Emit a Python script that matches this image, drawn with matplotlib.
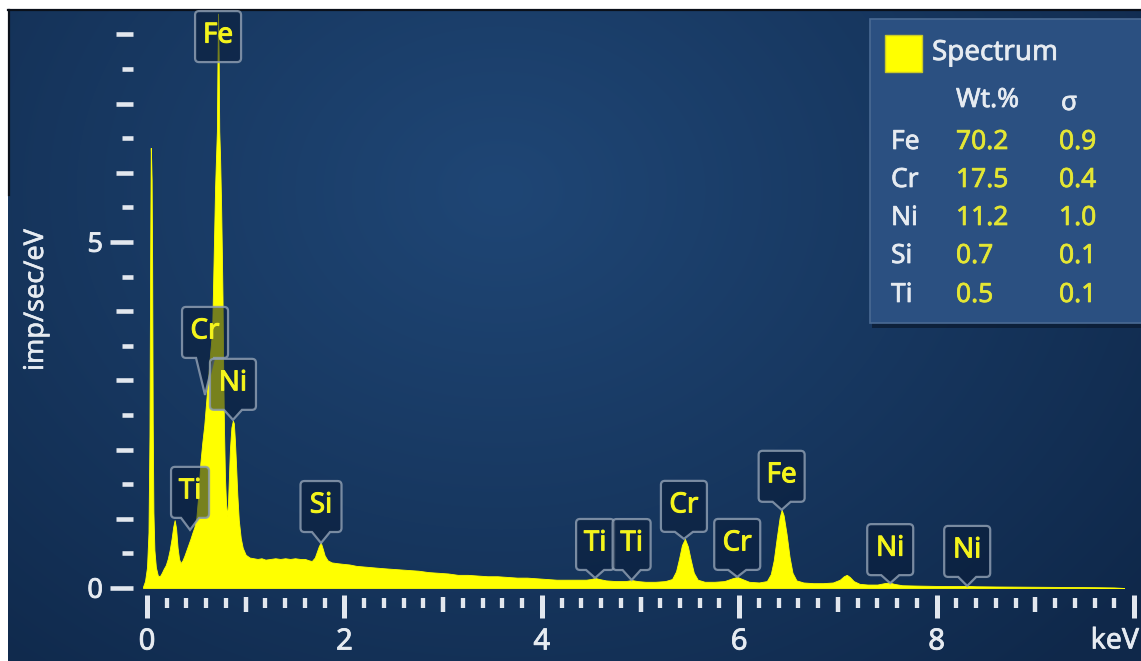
import numpy as np
import matplotlib
matplotlib.use("Agg")
import matplotlib.pyplot as plt
import matplotlib.patheffects as pe
from matplotlib.path import Path
from matplotlib.patches import PathPatch, Rectangle
from matplotlib.lines import Line2D
from matplotlib.transforms import IdentityTransform
from matplotlib.colors import to_rgb

plt.rcParams['font.family'] = ['Noto Sans', 'DejaVu Sans']

# ---------------- spectrum (energy in keV, intensity in imp/sec/eV) ----------------
energy_keV = [
    -0.04, -0.02, 0.00, 0.015, 0.025, 0.032, 0.038, 0.042, 0.047, 0.052,
    0.058, 0.065, 0.075, 0.09, 0.11, 0.13, 0.15, 0.17, 0.19, 0.21,
    0.23, 0.25, 0.265, 0.28, 0.295, 0.31, 0.325, 0.34, 0.36, 0.38,
    0.40, 0.42, 0.44, 0.46, 0.48, 0.50, 0.52, 0.54, 0.56, 0.58,
    0.60, 0.62, 0.64, 0.66, 0.67, 0.68, 0.69, 0.70, 0.708, 0.714,
    0.72, 0.726, 0.732, 0.74, 0.75, 0.758, 0.765, 0.772, 0.78, 0.79,
    0.80, 0.81, 0.82, 0.83, 0.84, 0.855, 0.87, 0.88, 0.89, 0.90,
    0.915, 0.93, 0.95, 0.97, 1.00, 1.04, 1.08, 1.12, 1.16, 1.20,
    1.25, 1.30, 1.35, 1.40, 1.45, 1.50, 1.55, 1.60, 1.64, 1.67,
    1.70, 1.72, 1.74, 1.76, 1.78, 1.80, 1.83, 1.87, 1.92, 1.98,
    2.05, 2.12, 2.20, 2.28, 2.36, 2.45, 2.55, 2.65, 2.75, 2.85,
    2.95, 3.05, 3.15, 3.25, 3.35, 3.45, 3.55, 3.65, 3.75, 3.85,
    3.95, 4.05, 4.15, 4.25, 4.35, 4.45, 4.50, 4.54, 4.58, 4.65,
    4.75, 4.85, 4.91, 4.97, 5.05, 5.15, 5.25, 5.32, 5.36, 5.39,
    5.42, 5.45, 5.48, 5.51, 5.54, 5.58, 5.65, 5.75, 5.85, 5.93,
    5.98, 6.03, 6.10, 6.20, 6.28, 6.32, 6.35, 6.38, 6.41, 6.43,
    6.45, 6.48, 6.51, 6.54, 6.58, 6.65, 6.75, 6.85, 6.95, 7.02,
    7.06, 7.09, 7.12, 7.16, 7.22, 7.30, 7.40, 7.47, 7.52, 7.57,
    7.65, 7.80, 8.00, 8.20, 8.31, 8.40, 8.60, 8.80, 9.00, 9.20,
    9.40, 9.60, 9.80, 9.90,
]
intensity = [
    0.02, 0.10, 0.30, 0.80, 2.20, 4.80, 6.36, 6.20, 5.90, 4.70,
    2.40, 1.10, 0.55, 0.30, 0.18, 0.17, 0.22, 0.28, 0.33, 0.42,
    0.55, 0.72, 0.88, 0.98, 0.86, 0.58, 0.42, 0.36, 0.40, 0.47,
    0.55, 0.63, 0.71, 0.80, 0.88, 1.02, 1.35, 1.80, 2.10, 2.35,
    2.70, 3.05, 3.40, 3.72, 4.40, 5.10, 5.80, 6.25, 6.60, 7.60,
    8.30, 7.70, 6.60, 6.25, 5.60, 4.90, 4.20, 3.20, 2.30, 1.60,
    1.25, 1.04, 1.20, 1.60, 2.00, 2.32, 2.42, 2.38, 2.15, 1.85,
    1.35, 0.98, 0.72, 0.58, 0.48, 0.44, 0.43, 0.42, 0.43, 0.41,
    0.42, 0.43, 0.42, 0.43, 0.42, 0.43, 0.42, 0.42, 0.40, 0.39,
    0.44, 0.52, 0.60, 0.66, 0.57, 0.47, 0.40, 0.37, 0.36, 0.35,
    0.34, 0.32, 0.31, 0.30, 0.29, 0.28, 0.27, 0.26, 0.25, 0.23,
    0.22, 0.21, 0.19, 0.19, 0.18, 0.17, 0.17, 0.16, 0.15, 0.15,
    0.14, 0.13, 0.12, 0.12, 0.12, 0.12, 0.13, 0.145, 0.13, 0.11,
    0.10, 0.10, 0.115, 0.10, 0.09, 0.09, 0.10, 0.13, 0.24, 0.42,
    0.62, 0.71, 0.60, 0.40, 0.22, 0.12, 0.09, 0.09, 0.10, 0.14,
    0.16, 0.13, 0.09, 0.08, 0.10, 0.20, 0.40, 0.72, 1.02, 1.13,
    1.05, 0.78, 0.45, 0.22, 0.11, 0.08, 0.07, 0.07, 0.08, 0.12,
    0.17, 0.19, 0.16, 0.10, 0.06, 0.05, 0.05, 0.07, 0.08, 0.06,
    0.04, 0.035, 0.03, 0.028, 0.03, 0.025, 0.022, 0.02, 0.018, 0.016,
    0.014, 0.012, 0.008, 0.0,
]

# peak identification labels: element, line energy (keV), intensity at the pointer tip
peak_elements = ["Fe", "Cr", "Ni", "Ti", "Si", "Ti", "Ti", "Cr", "Cr", "Fe", "Ni", "Ni"]
peak_energy = [0.72, 0.588, 0.871, 0.436, 1.763, 4.54, 4.91, 5.44, 5.98, 6.43, 7.53, 8.31]
peak_tip = [7.60, 2.79, 2.43, 0.84, 0.65, 0.145, 0.115, 0.71, 0.16, 1.13, 0.07, 0.03]
pointer_px = [0, 37, 10, 12, 11, 8, 10, 7, 7, 8, 8, 9]

# quantification table
table_elements = ["Fe", "Cr", "Ni", "Si", "Ti"]
table_wt = [70.2, 17.5, 11.2, 0.7, 0.5]
table_sigma = [0.9, 0.4, 1.0, 0.1, 0.1]

x_tick_labels = [0, 2, 4, 6, 8]
y_tick_labels = [0, 5]

# ---------------- layout (pixels) ----------------
W, H = 1141, 661
X0, KEV_PX = 147.0, 98.7      # pixel of 0 keV, pixels per keV
Y0, UNIT_PX = 588.0, 69.2     # pixel row of zero intensity, pixels per unit
XMAX, YMAX = 10.0, 8.0

TICK_COLOR = "#e2e7ee"
TEXT_COLOR = "#e6ebf1"
YELLOW = "#ffff00"
LABEL_YELLOW = "#f4f41c"
VALUE_YELLOW = "#e4e634"


def thick(color, w=0.7):
    return [pe.withStroke(linewidth=w, foreground=color)]


fig = plt.figure(figsize=(W / 100, H / 100), dpi=100, facecolor="white")

# gradient backdrop
bg = fig.add_axes([8 / W, 0, (W - 8) / W, (H - 10) / H], zorder=-2)
bg.axis("off")
ys, xs = np.mgrid[10:H, 8:W].astype(float)
d = np.sqrt(((xs - 500) / 1.0) ** 2 + ((ys - 190) / 0.8) ** 2)
t = np.clip(d / 820.0, 0, 1) ** 1.05
c0 = np.array(to_rgb("#1f4675"))
c1 = np.array(to_rgb("#0f284a"))
img = c0[None, None, :] * (1 - t[..., None]) + c1[None, None, :] * t[..., None]
bg.imshow(img, extent=(0, 1, 0, 1), aspect="auto", origin="upper", interpolation="bilinear")
bg.set_xlim(0, 1)
bg.set_ylim(0, 1)

# dark frame edges
fig.add_artist(Line2D([8, W], [H - 10, H - 10], transform=IdentityTransform(), color="#0a101a", lw=1.6))
fig.add_artist(Line2D([8.5, 8.5], [H - 10, H - 195], transform=IdentityTransform(), color="#0a101a", lw=1.6))

# data axes
ax = fig.add_axes([X0 / W, (H - Y0) / H, XMAX * KEV_PX / W, YMAX * UNIT_PX / H])
ax.set_xlim(0, XMAX)
ax.set_ylim(0, YMAX)
ax.axis("off")

ax.fill_between(energy_keV, intensity, 0, color=YELLOW, lw=0.6, clip_on=False, zorder=3)


def e_of(px):
    return (px - X0) / KEV_PX


def i_of(py):
    return (Y0 - py) / UNIT_PX


# x ticks: minor every 0.2, medium every 1, major every 2 keV
for k in range(0, 51):
    e = k * 0.2
    if k % 10 == 0:
        y_top, y_bot, lw = 595, 618, 3.6
    elif k % 5 == 0:
        y_top, y_bot, lw = 597, 612, 3.2
    else:
        y_top, y_bot, lw = 598, 608, 3.1
    ax.plot([e, e], [i_of(y_top), i_of(y_bot)], color=TICK_COLOR, lw=lw,
            solid_capstyle="butt", clip_on=False, zorder=2)

# y ticks every 0.5
for k in range(0, 17):
    v = k * 0.5
    if v in y_tick_labels:
        x_left = 110
    elif k % 2 == 0:
        x_left = 116
    else:
        x_left = 122
    ax.plot([e_of(x_left), e_of(133)], [v, v], color=TICK_COLOR, lw=3.3,
            solid_capstyle="butt", clip_on=False, zorder=2)

for v in x_tick_labels:
    ax.text(v, i_of(642), str(v), ha="center", va="center", fontsize=21,
            color=TEXT_COLOR, clip_on=False, path_effects=thick(TEXT_COLOR, 0.6))
for v in y_tick_labels:
    ax.text(e_of(103), v - 0.04, str(v), ha="right", va="center",
            fontsize=19.5, color=TEXT_COLOR, clip_on=False, path_effects=thick(TEXT_COLOR, 0.6))

fig.text(1139 / W, (H - 641) / H, "keV", ha="right", va="center", fontsize=20.5,
         color=TEXT_COLOR, path_effects=thick(TEXT_COLOR, 0.5))
fig.text(36 / W, (H - 300) / H, "imp/sec/eV", ha="center", va="center", rotation=90,
         fontsize=19.5, color=TEXT_COLOR, path_effects=thick(TEXT_COLOR, 0.4))


# peak callouts
def callout(tx, ty, w, h, ptr, hw=9.0, r=4.0):
    b = ty + ptr
    tp = b + h
    left, right = tx - w / 2, tx + w / 2
    verts, codes = [], []
    if ptr > 0:
        verts += [(tx, ty), (tx + hw, b)]
        codes += [Path.MOVETO, Path.LINETO]
    else:
        verts += [(tx, b)]
        codes += [Path.MOVETO]
    verts += [(right - r, b), (right, b), (right, b + r),
              (right, tp - r), (right, tp), (right - r, tp),
              (left + r, tp), (left, tp), (left, tp - r),
              (left, b + r), (left, b), (left + r, b)]
    codes += [Path.LINETO, Path.CURVE3, Path.CURVE3] * 4
    if ptr > 0:
        verts += [(tx - hw, b)]
        codes += [Path.LINETO]
    verts += [verts[0]]
    codes += [Path.CLOSEPOLY]
    return Path(verts, codes), b + h / 2


box_width = {"Ti": 38, "Si": 41}
for name, e, tip, ptr in zip(peak_elements, peak_energy, peak_tip, pointer_px):
    tx, ty = ax.transData.transform((e, tip))
    w = box_width.get(name, 46)
    path, cy = callout(tx, ty, w, 51, ptr)
    patch = PathPatch(path, transform=IdentityTransform(), facecolor=(0.03, 0.10, 0.21, 0.55),
                      edgecolor=(0.55, 0.61, 0.69, 0.85), lw=1.6, clip_on=False, zorder=6)
    fig.add_artist(patch)
    fig.text(tx, cy + 1, name, transform=IdentityTransform(), ha="center", va="center",
             fontsize=20, color=LABEL_YELLOW, zorder=7, path_effects=thick(LABEL_YELLOW, 0.7))

# quantification panel
def px_rect(x, y, w, h, **kw):
    return Rectangle((x, H - y - h), w, h, transform=IdentityTransform(), **kw)


fig.add_artist(px_rect(872, 22, 290, 306, facecolor="#0b1c33", edgecolor="none", alpha=0.8, zorder=8))
fig.add_artist(px_rect(870, 19, 290, 304, facecolor="#2b5081", edgecolor="#4a6a93", lw=1.2, zorder=9))
fig.add_artist(px_rect(885, 35, 37, 37, facecolor=YELLOW, edgecolor="#c9c92a", lw=1.0, zorder=10))


def px_text(x, y, s, color, size):
    fig.text(x, H - y, s, transform=IdentityTransform(), va="center", ha="left", zorder=11,
             fontsize=size, color=color, path_effects=thick(color, 0.5))


px_text(932, 53, "Spectrum", TEXT_COLOR, 20)
px_text(956, 100, "Wt.%", TEXT_COLOR, 19)
px_text(1061, 103, "σ", TEXT_COLOR, 19)
row_y = [142, 180, 218, 256, 295]
for ry, el, wt, sg in zip(row_y, table_elements, table_wt, table_sigma):
    px_text(891, ry, el, TEXT_COLOR, 19)
    px_text(956, ry, f"{wt:.1f}", VALUE_YELLOW, 19)
    px_text(1059, ry, f"{sg:.1f}", VALUE_YELLOW, 19)

fig.savefig("out.png", dpi=100, facecolor=fig.get_facecolor())
